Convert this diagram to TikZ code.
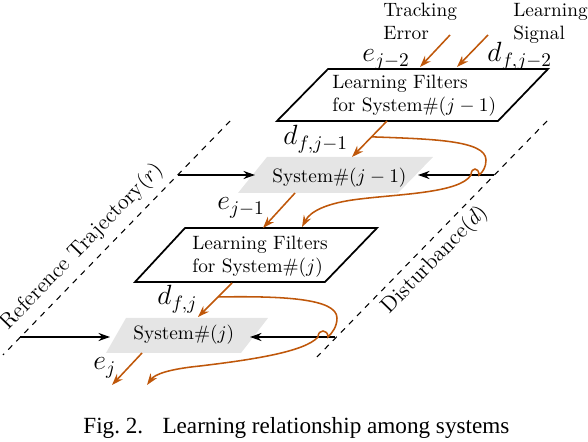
\documentclass[tikz,border=0pt]{standalone}
\usepackage{fontspec}
\newfontfamily\capfont{Liberation Serif}
\usetikzlibrary{arrows.meta,calc}
\definecolor{orng}{RGB}{191,87,10}
\tikzset{
  filt/.style={draw, line width=0.9pt, fill=white, line join=miter},
  sysbox/.style={fill=black!10},
  dline/.style={dashed, line width=0.55pt},
  blk/.style={-{Stealth[length=6pt,width=4.2pt]}, line width=0.8pt},
  org/.style={draw=orng, line width=0.8pt},
  orgarr/.style={org, -{Stealth[length=6pt,width=4.2pt]}},
  lab/.style={font=\Large, inner sep=0pt},
  txt/.style={inner sep=0pt},
  rot/.style={inner sep=0pt, font=\fontsize{11.4pt}{13pt}\selectfont},
}
\begin{document}
\begin{tikzpicture}[x=0.518pt,y=-0.518pt]
\useasboundingbox (0,0) rectangle (588,442);
% dashed boundary lines
\coordinate (refT) at (230,121);
\coordinate (refB) at (3,355);
\coordinate (disT) at (547,121);
\coordinate (disB) at (317,357);
\draw[dline] (refT) -- (refB);
\draw[dline] (disT) -- (disB);
\node[rot, rotate=45.9] (reflab) at (82,247) {Reference Trajectory$(r)$};
\node[rot, rotate=45.7] (dislab) at (435,260) {Disturbance$(d)$};

% system boxes
\fill[sysbox] (267,157) -- (433,157) -- (398,193) -- (238,193) -- cycle;
\node[txt, anchor=base west] (sys1) at (272,183) {System\#$(j-1)$};
\fill[sysbox] (126,318) -- (268,318) -- (241,353) -- (106,353) -- cycle;
\node[txt, anchor=base west] (sys2) at (133,340) {System\#$(j)$};

% learning filter boxes
\draw[filt] (328,69) -- (548,69) -- (498,121) -- (277,121) -- cycle;
\node[txt, anchor=north west, align=left] (lf1) at (332,74.6) {Learning Filters\\for System\#$(j-1)$};
\draw[filt] (185,228) -- (377,228) -- (325,282) -- (135,282) -- cycle;
\node[txt, anchor=north west, align=left] (lf2) at (192,235.6) {Learning Filters\\for System\#$(j)$};

% black arrows
\coordinate (r1) at (178,175);
\coordinate (r1t) at (255,175);
\coordinate (d1) at (494,175);
\coordinate (d1t) at (418,175);
\coordinate (r2) at (20,337);
\coordinate (r2t) at (110,337);
\coordinate (d2) at (335,337);
\coordinate (d2t) at (250,337);
\draw[blk] (r1) -- (r1t);
\draw[blk] (d1) -- (d1t);
\draw[blk] (r2) -- (r2t);
\draw[blk] (d2) -- (d2t);

% top inputs
\node[txt, anchor=north west, align=left] (te) at (383,2.6) {Tracking\\Error};
\node[txt, anchor=north west, align=left] (ls) at (513,2.6) {Learning\\Signal};
\coordinate (te1) at (450,35);
\coordinate (te2) at (420,67);
\coordinate (ls1) at (488,35);
\coordinate (ls2) at (457,67);
\draw[orgarr] (te1) -- (te2);
\draw[orgarr] (ls1) -- (ls2);
\node[lab, anchor=base west] (ej2) at (362,62) {$e_{j-2}$};
\node[lab, anchor=base west] (dj2) at (487,62) {$d_{f,j-2}$};

% filter 1 -> system 1
\coordinate (f1o) at (387,121);
\coordinate (s1i) at (352,157);
\draw[orgarr] (f1o) -- (s1i);
\node[lab, anchor=base west] (dj1) at (283,145) {$d_{f,j-1}$};
\coordinate (c1s) at ($(f1o)!0.44!(s1i)$);
% system 1 -> filter 2
\coordinate (s1o) at (295,193);
\coordinate (f2i) at (263,228);
\draw[orgarr] (s1o) -- (f2i);
\node[lab, anchor=base west] (ej1) at (217,210) {$e_{j-1}$};
\coordinate (c1e) at (302,227);
\draw[orgarr] (c1s) .. controls (430,139) and (486,140) .. (486,160)
  .. controls (486,167) and (483,172) .. (479,175)
  .. controls (479,167) and (471,167) .. (471,175)
  .. controls (460,193) and (400,194) .. (360,199)
  .. controls (325,203) and (310,212) .. (c1e);

% filter 2 -> system 2
\coordinate (f2o) at (232,283);
\coordinate (s2i) at (198,317);
\draw[orgarr] (f2o) -- (s2i);
\node[lab, anchor=base west] (dj) at (157,305) {$d_{f,j}$};
\coordinate (c2s) at ($(f2o)!0.41!(s2i)$);
% system 2 -> output
\coordinate (s2o) at (142,353);
\coordinate (o2) at (112,385);
\draw[orgarr] (s2o) -- (o2);
\node[lab, anchor=base west] (ej) at (93,370) {$e_{j}$};
\coordinate (c2e) at (147,385);
\draw[orgarr] (c2s) .. controls (280,296) and (337,298) .. (337,318)
  .. controls (337,327) and (332,333) .. (328,337)
  .. controls (328,329) and (318,329) .. (318,337)
  .. controls (305,352) and (250,360) .. (200,366)
  .. controls (170,369) and (155,374) .. (c2e);

% caption
\node[inner sep=0pt, anchor=base west, font=\capfont\fontsize{12pt}{14pt}\selectfont] (cap) at (83,434) {Fig.~2.\hspace{10pt}Learning relationship among systems};
\end{tikzpicture}
\end{document}
